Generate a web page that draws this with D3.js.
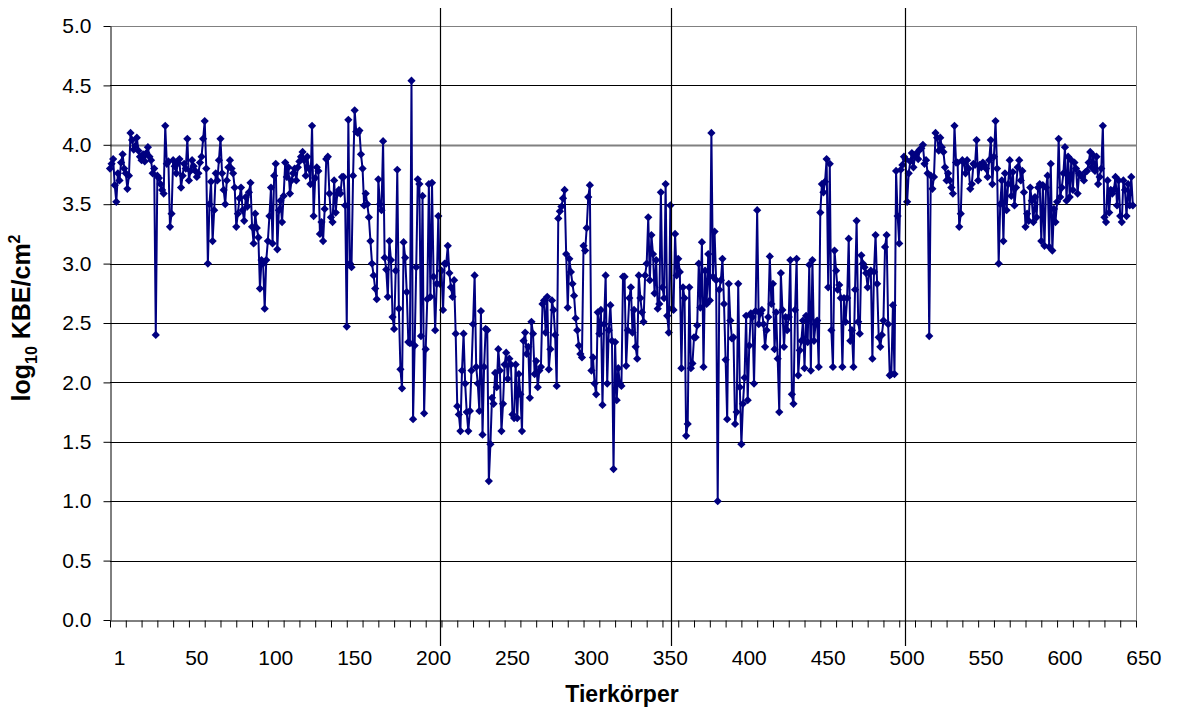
<!DOCTYPE html>
<html>
<head>
<meta charset="utf-8">
<script src="https://cdn.jsdelivr.net/npm/d3@7"></script>
<style>
body { margin: 0; background: #fff; }
svg { display: block; font-family: Arial, "Liberation Sans", sans-serif; }
</style>
</head>
<body>
<div id="chart"></div>
<script>
var WIDTH = 1188;
var HEIGHT = 712;
var LEFT = 110, RIGHT = 1136, TOP = 26, BOTTOM = 620;

// log10 KBE/cm2 per carcass, in slaughter order
var kbeLog = [
	3.80,3.84,3.88,3.66,3.52,3.76,3.70,3.85,3.92,3.80,
	3.76,3.63,3.74,4.10,4.04,3.96,3.99,4.06,3.95,3.90,
	3.87,3.92,3.86,3.93,3.98,3.90,3.87,3.76,3.80,2.40,
	3.74,3.72,3.67,3.62,3.59,4.16,3.84,3.86,3.31,3.42,
	3.87,3.82,3.76,3.85,3.88,3.64,3.74,3.84,3.80,4.05,
	3.70,3.78,3.87,3.82,3.78,3.73,3.76,3.85,3.90,4.05,
	4.20,3.80,3.00,3.50,3.69,3.19,3.45,3.76,3.70,3.87,
	4.05,3.76,3.62,3.50,3.70,3.81,3.87,3.80,3.76,3.64,
	3.31,3.42,3.55,3.64,3.45,3.36,3.56,3.48,3.60,3.68,
	3.31,3.17,3.42,3.30,3.22,2.79,3.03,3.00,2.62,3.03,
	3.19,3.40,3.64,3.17,3.74,3.84,3.12,3.45,3.53,3.35,
	3.57,3.85,3.73,3.81,3.59,3.70,3.76,3.80,3.70,3.81,
	3.86,3.90,3.94,3.87,3.74,3.90,3.80,3.67,4.16,3.40,
	3.72,3.81,3.78,3.25,3.35,3.19,3.46,3.88,3.90,3.59,
	3.39,3.35,3.70,3.43,3.59,3.62,3.59,3.73,3.73,3.49,
	2.47,4.21,3.00,2.97,3.74,4.29,4.11,4.10,4.12,3.92,
	3.80,3.49,3.59,3.50,3.39,3.19,3.00,2.90,2.79,2.70,
	3.71,3.50,3.45,4.03,3.05,2.95,2.72,3.19,3.03,2.55,
	2.45,2.94,3.79,2.62,2.11,1.95,3.18,3.05,2.76,2.34,
	2.33,4.54,1.69,2.31,2.97,3.71,3.67,2.39,3.57,1.74,
	2.28,2.70,3.67,2.72,3.68,2.89,2.44,2.83,3.40,2.83,
	2.94,2.61,3.00,3.00,3.15,2.92,2.80,2.72,2.86,2.41,
	1.80,1.73,1.59,2.10,2.41,1.99,1.75,1.59,1.76,2.10,
	2.49,2.90,2.13,1.99,1.76,2.60,1.56,2.13,2.45,2.44,
	1.17,1.48,1.87,1.82,2.08,1.96,2.28,2.10,1.59,1.82,
	2.15,2.25,2.03,2.20,2.15,1.73,1.70,2.15,1.70,2.07,
	1.90,1.59,2.35,2.42,2.24,2.30,1.87,2.51,2.41,2.07,
	2.18,1.96,2.10,2.13,2.66,2.69,2.42,2.72,2.11,2.28,
	2.69,2.61,2.40,1.97,3.38,3.44,3.48,3.55,3.62,3.08,
	2.63,3.04,2.93,2.83,2.73,2.54,2.44,2.31,2.24,2.21,
	3.15,3.11,3.30,3.56,3.66,2.10,2.21,1.99,1.90,2.59,
	2.41,2.61,1.81,2.49,2.90,1.99,2.44,2.65,2.35,1.27,
	2.34,1.85,2.12,1.99,1.97,2.89,2.89,2.14,2.44,2.71,
	2.80,2.42,2.61,2.30,2.20,2.90,2.71,2.59,2.51,2.90,
	3.00,3.39,2.86,3.24,3.08,2.75,3.03,2.62,2.66,3.60,
	2.80,2.71,3.67,2.56,2.42,3.49,2.62,2.61,3.25,2.90,
	3.04,2.93,2.12,2.80,2.71,1.55,1.65,2.80,2.12,2.16,
	2.38,2.38,2.48,3.00,2.63,3.18,2.13,2.94,2.66,3.08,
	2.69,4.10,2.89,3.27,2.86,1.00,2.78,2.86,3.04,2.66,
	2.19,1.69,2.83,2.52,2.37,2.38,1.65,1.75,2.83,1.96,
	1.48,1.82,2.04,2.56,1.85,2.31,2.58,2.55,1.99,2.60,
	3.45,2.49,2.58,2.61,2.49,2.30,2.44,2.55,3.06,2.66,
	2.83,2.28,2.59,2.20,1.75,2.92,2.61,2.30,2.55,2.44,
	2.55,3.03,1.90,1.82,2.61,3.04,2.06,2.27,2.35,2.52,
	2.12,2.56,2.34,2.99,2.10,3.03,2.35,2.49,2.52,2.13,
	3.43,3.67,3.60,3.69,3.88,2.80,3.84,2.44,2.13,3.11,
	2.94,2.78,2.82,2.71,2.13,2.71,2.51,2.71,3.21,2.35,
	2.44,2.13,2.78,3.36,2.51,2.41,3.07,3.00,2.97,2.92,
	2.80,2.92,2.94,2.20,2.93,3.24,2.83,2.38,2.30,2.40,
	2.52,3.14,3.24,2.49,2.06,2.07,2.65,2.07,3.78,3.40,
	3.17,3.79,3.83,3.90,3.88,3.52,3.76,3.86,3.93,3.81,
	3.90,3.93,3.88,3.96,3.97,4.00,3.84,3.87,3.76,2.39,
	3.74,3.63,3.73,4.10,4.06,3.95,4.06,3.98,3.94,3.81,
	3.70,3.76,3.70,3.64,3.59,4.16,3.85,3.85,3.31,3.42,
	3.87,3.85,3.76,3.87,3.80,3.63,3.67,3.84,3.83,4.04,
	3.70,3.83,3.81,3.85,3.83,3.80,3.73,3.87,4.04,3.67,
	3.90,4.20,3.80,3.00,3.50,3.70,3.19,3.76,3.45,3.67,
	3.87,3.57,3.77,3.49,3.64,3.81,3.87,3.70,3.78,3.60,
	3.31,3.42,3.36,3.64,3.53,3.35,3.56,3.39,3.64,3.67,
	3.19,3.66,3.15,3.64,3.74,3.14,3.84,3.11,3.46,3.35,
	3.52,4.05,3.56,3.64,3.76,3.98,3.53,3.90,3.56,3.87,
	3.62,3.85,3.80,3.59,3.76,3.74,3.73,3.70,3.77,3.78,
	3.85,3.94,3.81,3.91,3.78,3.90,3.67,3.73,3.80,4.16,
	3.39,3.35,3.70,3.43,3.62,3.59,3.62,3.73,3.49,3.70,
	3.40,3.35,3.70,3.62,3.40,3.67,3.49,3.73,3.49
];

var yTicks = [0, 0.5, 1, 1.5, 2, 2.5, 3, 3.5, 4, 4.5, 5];
var xTickLabels = [1, 50, 100, 150, 200, 250, 300, 350, 400, 450, 500, 550, 600, 650];
var groupBreaks = [209, 355.5, 503.5];   // vertical separators between batches
var xMax = 650;

var svg = d3.select('#chart').append('svg')
	.attr('width', WIDTH)
	.attr('height', HEIGHT);

svg.append('rect').attr('width', WIDTH).attr('height', HEIGHT).attr('fill', '#fff');

var x = d3.scaleLinear().domain([0, xMax]).range([LEFT, RIGHT]);
var y = d3.scaleLinear().domain([0, 5]).range([BOTTOM, TOP]);

// gridlines
svg.append('g').selectAll('line')
	.data(yTicks.filter(function(d) { return d > 0; }))
	.enter().append('line')
	.attr('x1', LEFT).attr('x2', RIGHT)
	.attr('y1', function(d) { return Math.round(y(d)) + 0.5; })
	.attr('y2', function(d) { return Math.round(y(d)) + 0.5; })
	.attr('stroke', function(d) { return (d == 4 || d == 5) ? '#808080' : '#000'; })
	.attr('stroke-width', function(d) { return d == 4 ? 2.2 : 1; });

// right border of plot area
svg.append('line')
	.attr('x1', RIGHT + 0.5).attr('x2', RIGHT + 0.5)
	.attr('y1', TOP).attr('y2', BOTTOM)
	.attr('stroke', '#808080');

// y axis
var yAxis = svg.append('g')
	.attr('transform', 'translate(' + (LEFT + 0.5) + ',0)')
	.call(d3.axisLeft(y).tickValues(yTicks).tickFormat(d3.format('.1f')).tickSize(7).tickPadding(12).tickSizeOuter(0));
yAxis.selectAll('text').attr('font-size', 21).attr('fill', '#000').attr('font-family', 'Arial, "Liberation Sans", sans-serif');
yAxis.selectAll('line, path').attr('stroke', '#000');

// x axis, tick marks every 10 carcasses
var xAxis = svg.append('g')
	.attr('transform', 'translate(0,' + (BOTTOM + 0.5) + ')')
	.call(d3.axisBottom(x).tickValues(d3.range(0, xMax + 1, 10)).tickSize(7).tickFormat('').tickSizeOuter(0));
xAxis.selectAll('line, path').attr('stroke', '#000');

svg.append('g').selectAll('text')
	.data(xTickLabels)
	.enter().append('text')
	.attr('x', function(d) { return x(d + 5); })
	.attr('y', 665)
	.attr('text-anchor', 'middle')
	.attr('font-size', 21)
	.text(function(d) { return d; });

// series
var line = d3.line()
	.x(function(d, i) { return x(i); })
	.y(function(d) { return y(d); });

svg.append('path')
	.datum(kbeLog)
	.attr('d', line)
	.attr('fill', 'none')
	.attr('stroke', '#000080')
	.attr('stroke-width', 2)
	.attr('stroke-linejoin', 'round');

var diamond = d3.symbol().type(d3.symbolSquare).size(34);
svg.append('g').selectAll('path')
	.data(kbeLog)
	.enter().append('path')
	.attr('d', diamond)
	.attr('transform', function(d, i) { return 'translate(' + x(i) + ',' + y(d) + ') rotate(45)'; })
	.attr('fill', '#000080');

// batch separators
svg.append('g').selectAll('line')
	.data(groupBreaks)
	.enter().append('line')
	.attr('x1', function(d) { return Math.round(x(d)) + 0.5; })
	.attr('x2', function(d) { return Math.round(x(d)) + 0.5; })
	.attr('y1', 8).attr('y2', 646)
	.attr('stroke', '#000')
	.attr('stroke-width', 1.2);

// axis titles
var yTitle = svg.append('text')
	.attr('transform', 'translate(30,318) rotate(-90)')
	.attr('text-anchor', 'middle')
	.attr('font-size', 25)
	.attr('font-weight', 'bold');
yTitle.append('tspan').text('log');
yTitle.append('tspan').attr('font-size', 16).attr('dy', 7).text('10');
yTitle.append('tspan').attr('dy', -7).text(' KBE/cm');
yTitle.append('tspan').attr('font-size', 16).attr('dy', -10).text('2');

svg.append('text')
	.attr('x', 622)
	.attr('y', 702)
	.attr('text-anchor', 'middle')
	.attr('font-size', 23)
	.attr('font-weight', 'bold')
	.text('Tierkörper');
</script>
</body>
</html>
